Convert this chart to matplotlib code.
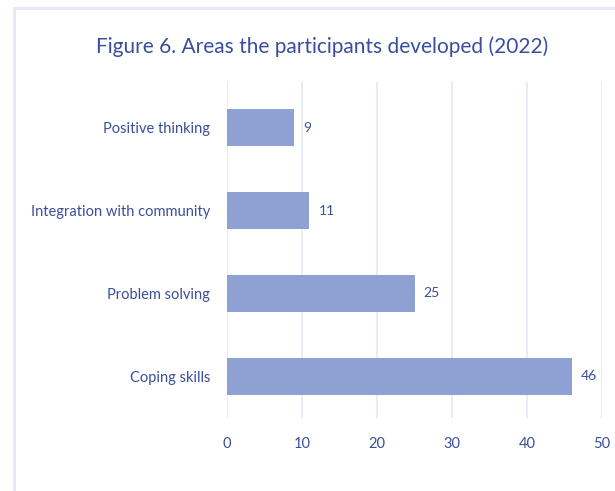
import matplotlib.pyplot as plt
from matplotlib.lines import Line2D

areas = ['Coping skills', 'Problem solving', 'Integration with community', 'Positive thinking']
counts = [46, 25, 11, 9]
ticks = [0, 10, 20, 30, 40, 50]

text_col = '#3a4e9c'
bar_col = '#8da2d2'
grid_col = '#e3e8f4'

plt.rcParams['font.family'] = ['Lato', 'DejaVu Sans']

fig = plt.figure(figsize=(6.15, 4.91), dpi=100)
ax = fig.add_axes([0.369, 0.149, 0.610, 0.684])

# light panel border along the top and left
fig.add_artist(Line2D([14 / 615, 1], [1 - 8 / 491, 1 - 8 / 491], color=grid_col, lw=2, transform=fig.transFigure))
fig.add_artist(Line2D([14 / 615, 14 / 615], [0, 1 - 8 / 491], color=grid_col, lw=2, transform=fig.transFigure))

bars = ax.barh(range(len(areas)), counts, height=0.44, color=bar_col, zorder=3)
for b, v in zip(bars, counts):
    ax.text(b.get_width() + 1.2, b.get_y() + b.get_height() / 2, str(v),
            va='center', ha='left', fontsize=10, color=text_col)

ax.set_xlim(0, 50)
ax.set_ylim(-0.5, 3.55)
ax.set_xticks(ticks)
ax.set_yticks(range(len(areas)))
ax.set_yticklabels(areas)
ax.tick_params(axis='x', length=0, pad=14, labelsize=10.5, labelcolor=text_col)
ax.tick_params(axis='y', length=0, pad=12, labelsize=10.5, labelcolor=text_col)
ax.grid(axis='x', color=grid_col, lw=1.2, zorder=0)
for s in ax.spines.values():
    s.set_visible(False)

fig.text(0.523, 1 - 47 / 491, 'Figure 6. Areas the participants developed (2022)',
         ha='center', va='center', fontsize=15, color=text_col)

fig.savefig('out.png', dpi=100)
